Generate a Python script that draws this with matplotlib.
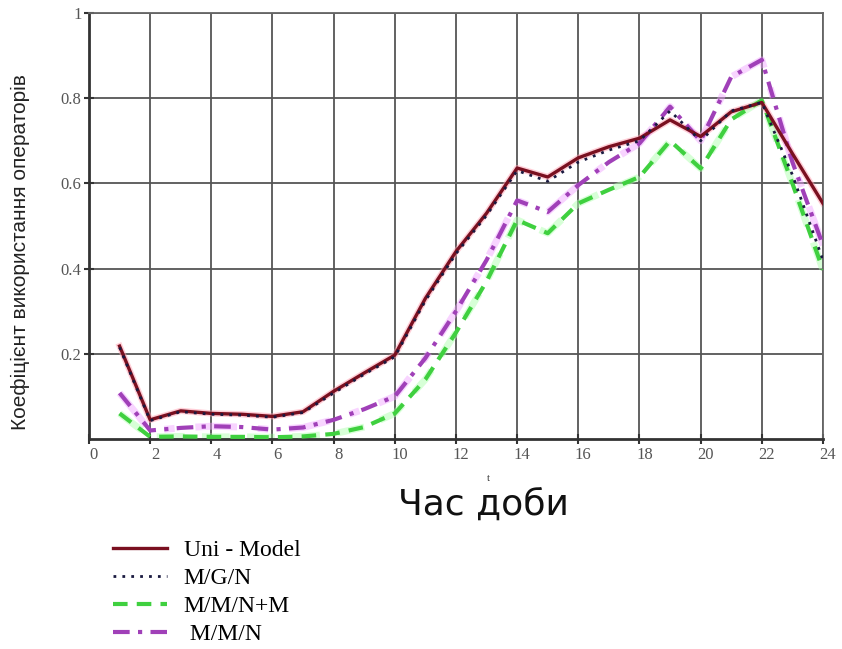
import matplotlib.pyplot as plt
from matplotlib import font_manager
from matplotlib.transforms import ScaledTranslation

hours = list(range(1, 25))

uni_model = [0.218, 0.045, 0.066, 0.060, 0.058, 0.053, 0.064, 0.112, 0.155, 0.197,
             0.330, 0.440, 0.530, 0.636, 0.615, 0.660, 0.686, 0.706, 0.749, 0.710,
             0.768, 0.790, 0.670, 0.553]
mgn = [0.215, 0.043, 0.064, 0.058, 0.056, 0.051, 0.062, 0.108, 0.152, 0.193,
       0.325, 0.435, 0.525, 0.630, 0.605, 0.650, 0.678, 0.700, 0.770, 0.700,
       0.770, 0.790, 0.620, 0.420]
mmnm = [0.060, 0.005, 0.006, 0.005, 0.005, 0.004, 0.006, 0.012, 0.028, 0.060,
        0.140, 0.250, 0.370, 0.514, 0.483, 0.553, 0.585, 0.615, 0.700, 0.635,
        0.750, 0.795, 0.600, 0.397]
mmn = [0.108, 0.020, 0.026, 0.030, 0.028, 0.022, 0.027, 0.045, 0.070, 0.100,
       0.190, 0.300, 0.420, 0.560, 0.533, 0.596, 0.650, 0.694, 0.780, 0.700,
       0.850, 0.890, 0.650, 0.455]

x_ticks = list(range(0, 25, 2))
y_ticks = [0.2, 0.4, 0.6, 0.8, 1.0]
y_tick_labels = ['0.2', '0.4', '0.6', '0.8', '1']

names = {f.name for f in font_manager.fontManager.ttflist}
narrow = 'Liberation Sans Narrow' if 'Liberation Sans Narrow' in names else 'Liberation Sans'
serif = 'Liberation Serif'

fig = plt.figure(figsize=(8.42, 6.49), dpi=100)
ax = fig.add_axes([0.1057, 0.3236, 0.8717, 0.6564])

# pale halos under the lines, then the lines themselves
ax.plot(hours, uni_model, color='#ff9fb0', lw=4.5, alpha=0.5, zorder=2)
ax.plot(hours, mmn, color='#f0a0ff', lw=5, alpha=0.45, ls=(0, (6, 3, 1.5, 3)), zorder=2)
ax.plot(hours, mmnm, color='#b0ffb0', lw=5, alpha=0.5, ls=(0, (4, 2.5)), zorder=2)

l1, = ax.plot(hours, uni_model, color='#7a1020', lw=2.4, zorder=5, label='Uni - Model')
l2, = ax.plot(hours, mgn, color='#1a1a40', lw=2.0, ls=(0, (1, 2.2)), zorder=6, label='M/G/N')
l3, = ax.plot(hours, mmnm, color='#3fd03f', lw=3.0, ls=(0, (3.5, 2.2)), zorder=3, label='M/M/N+M')
l4, = ax.plot(hours, mmn, color='#a040b8', lw=3.0, ls=(0, (4, 2, 1, 2)), zorder=4, label=' M/M/N')

ax.set_xlim(0, 24)
ax.set_ylim(0, 1)
ax.set_xticks(x_ticks)
ax.set_xticklabels([str(v) for v in x_ticks], fontfamily=serif, fontsize=12, color='#555555')
ax.set_yticks(y_ticks)
ax.set_yticklabels(y_tick_labels, fontfamily=serif, fontsize=12, color='#555555')
ax.tick_params(axis='both', direction='inout', length=7, width=1.5, color='#333333', pad=2)
shift = ScaledTranslation(5 / 100, 0, fig.dpi_scale_trans)
for lab in ax.get_xticklabels():
    lab.set_transform(lab.get_transform() + shift)
ax.grid(True, color='#555555', lw=1.3)
for s in ax.spines.values():
    s.set_color('#666666')
    s.set_linewidth(1.3)
ax.spines['left'].set_color('#333333')
ax.spines['bottom'].set_color('#333333')
ax.spines['left'].set_linewidth(2)
ax.spines['bottom'].set_linewidth(2)

fig.text(0.024, 0.612, 'Коефіцієнт використання операторів', fontfamily=narrow, fontsize=15,
         rotation=90, ha='center', va='center', color='#222222')
fig.text(0.58, 0.262, 't', fontfamily=serif, fontsize=8, ha='center', va='center', color='#333333')
fig.text(0.574, 0.222, 'Час доби', fontfamily='DejaVu Sans', fontsize=26, ha='center',
         va='center', color='#111111')

leg = fig.legend(handles=[l1, l2, l3, l4], loc='upper left', bbox_to_anchor=(0.134, 0.168),
                 frameon=False, prop={'family': serif, 'size': 17}, handlelength=2.3,
                 handletextpad=0.7, labelspacing=0.27, borderaxespad=0, borderpad=0)

fig.savefig('out.png', dpi=100)
